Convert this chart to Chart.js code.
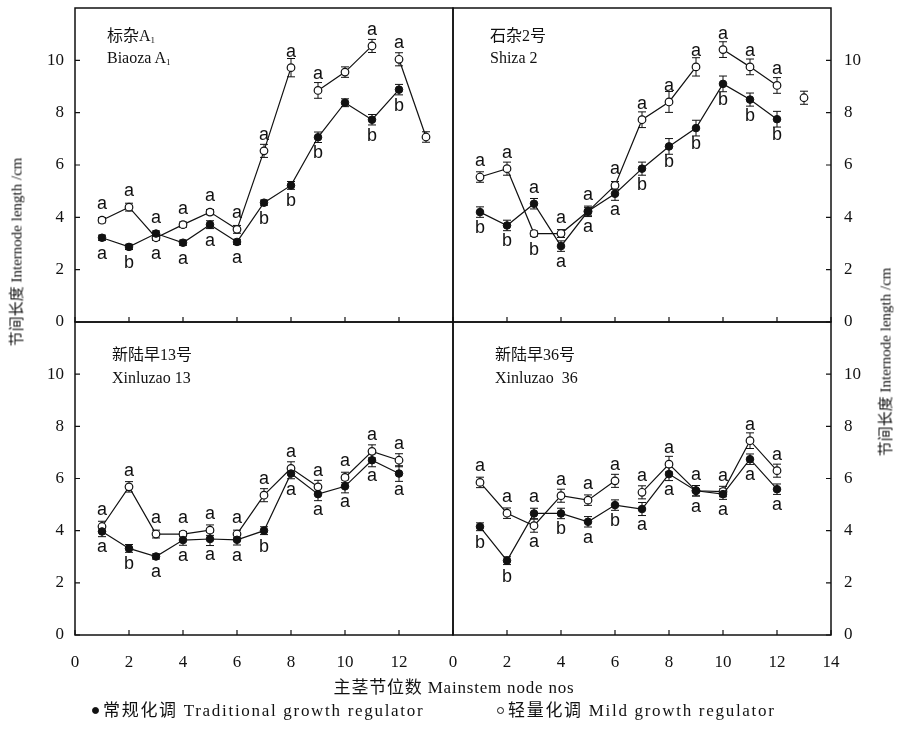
<!DOCTYPE html>
<html>
<head>
<meta charset="utf-8">
<script src="https://cdn.jsdelivr.net/npm/chart.js@4.4.0/dist/chart.umd.min.js"></script>
<style>
  body { margin: 0; background: #fff; }
  #page { position: relative; width: 897px; height: 731px; overflow: hidden;
          font-family: "Liberation Serif", "Noto Sans CJK SC", serif; color: #111; }
  #page canvas { position: absolute; left: 0; top: 0; }
  .txt { position: absolute; white-space: nowrap; font-size: 16px; line-height: 1; }
  .txt sub { font-size: 9px; vertical-align: -2px; }
  .ytitle { position: absolute; white-space: nowrap; font-size: 15px;
            transform: translate(-50%, -50%) rotate(-90deg); }
  .dot { display: inline-block; width: 7px; height: 7px; border-radius: 50%;
         border: 1px solid #111; box-sizing: border-box; vertical-align: 2px; margin-right: 4px; }
</style>
</head>
<body>
<div id="page">
  <canvas id="tl" width="897" height="731"></canvas>
  <canvas id="tr" width="897" height="731"></canvas>
  <canvas id="bl" width="897" height="731"></canvas>
  <canvas id="br" width="897" height="731"></canvas>

  <div class="txt" style="left:107px;top:28px">标杂A<sub>1</sub></div>
  <div class="txt" style="left:107px;top:50px">Biaoza A<sub>1</sub></div>
  <div class="txt" style="left:490px;top:28px">石杂2号</div>
  <div class="txt" style="left:490px;top:50px">Shiza 2</div>
  <div class="txt" style="left:112px;top:347px">新陆早13号</div>
  <div class="txt" style="left:112px;top:370px">Xinluzao 13</div>
  <div class="txt" style="left:495px;top:347px">新陆早36号</div>
  <div class="txt" style="left:495px;top:370px">Xinluzao&nbsp; 36</div>

  <div class="ytitle" style="left:15px;top:252px">节间长度 Internode length /cm</div>
  <div class="ytitle" style="left:884px;top:362px">节间长度 Internode length /cm</div>
  <div class="txt" style="left:454px;top:679px;font-size:17px;letter-spacing:0.8px;transform:translateX(-50%)">主茎节位数 Mainstem node nos</div>
  <div class="txt" style="left:92px;top:702px;font-size:17px;letter-spacing:1.7px"><span class="dot" style="background:#111"></span>常规化调 Traditional growth regulator</div>
  <div class="txt" style="left:497px;top:702px;font-size:17px;letter-spacing:1.7px"><span class="dot" style="background:#fff"></span>轻量化调 Mild growth regulator</div>
</div>

<script>
// node positions and ticks
const nodes = [1, 2, 3, 4, 5, 6, 7, 8, 9, 10, 11, 12, 13];
const xTicksLeft = [0, 2, 4, 6, 8, 10, 12];
const xTicksRight = [0, 2, 4, 6, 8, 10, 12, 14];
const yTicks = [0, 2, 4, 6, 8, 10];

// 标杂A1 Biaoza A1
const biaozaTrad = [3.22, 2.87, 3.38, 3.03, 3.72, 3.06, 4.56, 5.22, 7.06, 8.38, 7.73, 8.88];
const biaozaTradErr = [0.1, 0.1, 0.1, 0.1, 0.15, 0.1, 0.1, 0.15, 0.2, 0.15, 0.2, 0.2];
const biaozaTradSig = ['a', 'b', 'a', 'a', 'a', 'a', 'b', 'b', 'b', '', 'b', 'b'];
const biaozaMild = [3.89, 4.39, 3.22, 3.72, 4.20, 3.54, 6.54, 9.72, 8.85, 9.55, 10.55, 10.04, 7.07];
const biaozaMildErr = [0.1, 0.15, 0.1, 0.1, 0.1, 0.15, 0.25, 0.35, 0.3, 0.2, 0.25, 0.25, 0.2];
const biaozaMildSig = ['a', 'a', 'a', 'a', 'a', 'a', 'a', 'a', 'a', '', 'a', 'a', ''];
const biaozaMildGaps = [7, 10];

// 石杂2号 Shiza 2
const shizaTrad = [4.2, 3.69, 4.52, 2.9, 4.23, 4.9, 5.86, 6.71, 7.41, 9.1, 8.5, 7.75];
const shizaTradErr = [0.2, 0.2, 0.2, 0.2, 0.2, 0.25, 0.25, 0.3, 0.3, 0.3, 0.25, 0.3];
const shizaTradSig = ['b', 'b', 'a', 'a', 'a', 'a', 'b', 'b', 'b', 'b', 'b', 'b'];
const shizaMild = [5.54, 5.86, 3.38, 3.38, 4.23, 5.22, 7.73, 8.41, 9.75, 10.41, 9.75, 9.04, 8.57];
const shizaMildErr = [0.2, 0.25, 0.1, 0.15, 0.15, 0.15, 0.3, 0.4, 0.35, 0.3, 0.3, 0.3, 0.25];
const shizaMildSig = ['a', 'a', 'b', 'a', 'a', 'a', 'a', 'a', 'a', 'a', 'a', 'a', ''];
const shizaMildGaps = [8, 11];

// 新陆早13号 Xinluzao 13
const xlz13Trad = [3.97, 3.32, 3.01, 3.64, 3.68, 3.65, 4.0, 6.19, 5.4, 5.7, 6.7, 6.19];
const xlz13TradErr = [0.2, 0.15, 0.1, 0.2, 0.25, 0.2, 0.15, 0.2, 0.25, 0.25, 0.25, 0.3];
const xlz13TradSig = ['a', 'b', 'a', 'a', 'a', 'a', 'b', 'a', 'a', 'a', 'a', 'a'];
const xlz13Mild = [4.16, 5.68, 3.87, 3.87, 4.02, 3.87, 5.36, 6.39, 5.68, 6.04, 7.04, 6.7];
const xlz13MildErr = [0.2, 0.2, 0.15, 0.1, 0.2, 0.15, 0.25, 0.25, 0.25, 0.2, 0.25, 0.25];
const xlz13MildSig = ['a', 'a', 'a', 'a', 'a', 'a', 'a', 'a', 'a', 'a', 'a', 'a'];
const xlz13MildGaps = [4, 8];

// 新陆早36号 Xinluzao 36
const xlz36Trad = [4.15, 2.85, 4.66, 4.66, 4.34, 4.98, 4.83, 6.17, 5.53, 5.4, 6.74, 5.59];
const xlz36TradErr = [0.15, 0.15, 0.2, 0.2, 0.2, 0.2, 0.25, 0.25, 0.2, 0.2, 0.2, 0.2];
const xlz36TradSig = ['b', 'b', 'a', 'b', 'a', 'b', 'a', 'a', 'a', 'a', 'a', 'a'];
const xlz36Mild = [5.85, 4.67, 4.19, 5.34, 5.17, 5.91, 5.47, 6.55, 5.53, 5.5, 7.45, 6.3];
const xlz36MildErr = [0.2, 0.2, 0.25, 0.25, 0.2, 0.25, 0.25, 0.3, 0.2, 0.2, 0.3, 0.25];
const xlz36MildSig = ['a', 'a', 'a', 'a', 'a', 'a', 'a', 'a', 'a', 'a', 'a', 'a'];
const xlz36MildGaps = [5];

const INK = '#111';

function points(values) {
    return values.map((v, i) => ({ x: nodes[i], y: v }));
}

// error bars under the markers
const errorBars = {
    id: 'errorBars',
    beforeDatasetsDraw(chart) {
        const { ctx, scales: { x, y } } = chart;
        ctx.save();
        ctx.strokeStyle = INK;
        ctx.lineWidth = 1;
        chart.data.datasets.forEach(ds => {
            ds.data.forEach((p, i) => {
                const e = ds.errors[i];
                const px = x.getPixelForValue(p.x);
                const top = y.getPixelForValue(p.y + e);
                const bot = y.getPixelForValue(p.y - e);
                ctx.beginPath();
                ctx.moveTo(px, top); ctx.lineTo(px, bot);
                ctx.moveTo(px - 4, top); ctx.lineTo(px + 4, top);
                ctx.moveTo(px - 4, bot); ctx.lineTo(px + 4, bot);
                ctx.stroke();
            });
        });
        ctx.restore();
    }
};

// significance letters: higher point gets its letter above, lower one below
const sigLetters = {
    id: 'sigLetters',
    afterDatasetsDraw(chart) {
        const { ctx, scales: { x, y } } = chart;
        const sets = chart.data.datasets;
        ctx.save();
        ctx.fillStyle = INK;
        ctx.font = '18px "Liberation Sans", Arial, sans-serif';
        ctx.textAlign = 'center';
        ctx.textBaseline = 'middle';
        sets.forEach((ds, di) => {
            const other = sets[1 - di];
            ds.data.forEach((p, i) => {
                const txt = ds.letters[i];
                if (!txt) return;
                const o = other.data[i];
                const above = !o || p.y > o.y || (p.y === o.y && ds.mild);
                const py = y.getPixelForValue(p.y);
                ctx.fillText(txt, x.getPixelForValue(p.x), above ? py - 16 : py + 16);
            });
        });
        ctx.restore();
    }
};

// panel frame with inward ticks
const frame = {
    id: 'frame',
    afterDraw(chart, args, opts) {
        const { ctx, chartArea: a, scales: { x, y } } = chart;
        ctx.save();
        ctx.strokeStyle = INK;
        ctx.lineWidth = 1.5;
        ctx.strokeRect(a.left, a.top, a.right - a.left, a.bottom - a.top);
        ctx.lineWidth = 1.2;
        ctx.beginPath();
        opts.xTicks.forEach(v => {
            const px = x.getPixelForValue(v);
            ctx.moveTo(px, a.bottom); ctx.lineTo(px, a.bottom - 5);
        });
        yTicks.forEach(v => {
            const py = y.getPixelForValue(v);
            if (opts.side === 'left') { ctx.moveTo(a.left, py); ctx.lineTo(a.left + 5, py); }
            else { ctx.moveTo(a.right, py); ctx.lineTo(a.right - 5, py); }
        });
        ctx.stroke();
        ctx.restore();
    }
};

function noAxisPadding(s) {
    s.paddingTop = 0; s.paddingBottom = 0; s.paddingLeft = 0; s.paddingRight = 0;
}

function makePanel(id, cfg) {
    const tickFont = { family: '"Liberation Serif", serif', size: 17 };
    const xAxis = {
        type: 'linear', min: 0, max: 14,
        display: cfg.showX,
        grid: { display: false, drawTicks: false },
        border: { display: false },
        ticks: { font: tickFont, color: INK, padding: 17 },
        afterBuildTicks: s => { s.ticks = cfg.xTicks.map(v => ({ value: v })); },
        afterFit: s => { s.height = cfg.showX ? 40 : 0; noAxisPadding(s); }
    };
    const yAxis = {
        type: 'linear', min: 0, max: 12,
        position: cfg.side,
        grid: { display: false, drawTicks: false },
        border: { display: false },
        ticks: { font: tickFont, color: INK, padding: cfg.side === 'left' ? 11 : 13 },
        afterBuildTicks: s => { s.ticks = yTicks.map(v => ({ value: v })); },
        afterFit: s => { s.width = cfg.side === 'left' ? 75 : 66; noAxisPadding(s); }
    };

    new Chart(document.getElementById(id), {
        type: 'line',
        data: {
            datasets: [
                {
                    label: '常规化调 Traditional growth regulator',
                    data: points(cfg.trad),
                    errors: cfg.tradErr,
                    letters: cfg.tradSig,
                    borderColor: INK,
                    borderWidth: 1.2,
                    backgroundColor: INK,
                    pointRadius: 3.8,
                    pointBorderColor: INK,
                    pointBorderWidth: 1,
                    tension: 0
                },
                {
                    label: '轻量化调 Mild growth regulator',
                    data: points(cfg.mild),
                    errors: cfg.mildErr,
                    letters: cfg.mildSig,
                    mild: true,
                    borderColor: INK,
                    borderWidth: 1.2,
                    pointBackgroundColor: '#fff',
                    pointBorderColor: INK,
                    pointBorderWidth: 1.2,
                    pointRadius: 3.8,
                    tension: 0,
                    segment: {
                        borderColor: c => cfg.gaps.includes(c.p0DataIndex) ? 'rgba(0,0,0,0)' : INK
                    }
                }
            ]
        },
        options: {
            responsive: false,
            animation: false,
            devicePixelRatio: 1,
            layout: { padding: cfg.padding },
            scales: { x: xAxis, y: yAxis },
            plugins: {
                legend: { display: false },
                tooltip: { enabled: false },
                frame: { side: cfg.side, xTicks: cfg.xTicks }
            }
        },
        plugins: [errorBars, sigLetters, frame]
    });
}

// chart areas: left panels x 75-453, right panels 453-831; top 8-322, bottom 322-635
makePanel('tl', {
    trad: biaozaTrad, tradErr: biaozaTradErr, tradSig: biaozaTradSig,
    mild: biaozaMild, mildErr: biaozaMildErr, mildSig: biaozaMildSig, gaps: biaozaMildGaps,
    side: 'left', showX: false, xTicks: xTicksLeft,
    padding: { left: 0, top: 8, right: 444, bottom: 409 }
});
makePanel('tr', {
    trad: shizaTrad, tradErr: shizaTradErr, tradSig: shizaTradSig,
    mild: shizaMild, mildErr: shizaMildErr, mildSig: shizaMildSig, gaps: shizaMildGaps,
    side: 'right', showX: false, xTicks: xTicksRight,
    padding: { left: 453, top: 8, right: 0, bottom: 409 }
});
makePanel('bl', {
    trad: xlz13Trad, tradErr: xlz13TradErr, tradSig: xlz13TradSig,
    mild: xlz13Mild, mildErr: xlz13MildErr, mildSig: xlz13MildSig, gaps: xlz13MildGaps,
    side: 'left', showX: true, xTicks: xTicksLeft,
    padding: { left: 0, top: 322, right: 444, bottom: 56 }
});
makePanel('br', {
    trad: xlz36Trad, tradErr: xlz36TradErr, tradSig: xlz36TradSig,
    mild: xlz36Mild, mildErr: xlz36MildErr, mildSig: xlz36MildSig, gaps: xlz36MildGaps,
    side: 'right', showX: true, xTicks: xTicksRight,
    padding: { left: 453, top: 322, right: 0, bottom: 56 }
});
</script>
</body>
</html>
